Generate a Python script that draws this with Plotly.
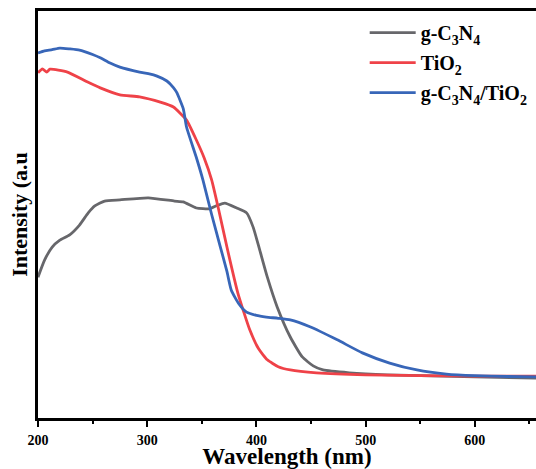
import plotly.graph_objects as go

# g-C3N4
gcn_nm = [200, 206, 213, 220, 229, 238, 246, 252, 261, 275, 301, 325, 333, 345, 357, 364, 371, 382, 391, 397, 403, 410, 419, 431, 442, 452, 461, 485, 520, 600, 656]
gcn_val = [0.346, 0.388, 0.420, 0.437, 0.450, 0.474, 0.504, 0.521, 0.533, 0.536, 0.541, 0.533, 0.531, 0.516, 0.514, 0.522, 0.528, 0.516, 0.504, 0.469, 0.413, 0.346, 0.273, 0.199, 0.150, 0.128, 0.118, 0.111, 0.106, 0.101, 0.098]

# TiO2
tio_nm = [200, 204, 208, 211, 227, 245, 257, 275, 293, 312, 324, 336, 345, 352, 359, 366, 373, 383, 394, 402, 410, 420, 431, 455, 500, 600, 656]
tio_val = [0.848, 0.858, 0.850, 0.857, 0.850, 0.826, 0.811, 0.794, 0.789, 0.776, 0.764, 0.732, 0.683, 0.640, 0.585, 0.505, 0.420, 0.307, 0.216, 0.170, 0.143, 0.126, 0.118, 0.111, 0.106, 0.103, 0.103]

# g-C3N4/TiO2
comp_nm = [200, 206, 213, 220, 229, 238, 250, 257, 266, 275, 293, 301, 309, 318, 324, 327, 333, 336, 345, 351, 359, 367, 373, 377, 384, 391, 400, 409, 420, 431, 449, 474, 497, 522, 547, 574, 600, 630, 656]
comp_val = [0.897, 0.902, 0.905, 0.909, 0.907, 0.904, 0.893, 0.885, 0.872, 0.862, 0.850, 0.846, 0.840, 0.828, 0.812, 0.800, 0.760, 0.715, 0.640, 0.585, 0.500, 0.420, 0.360, 0.314, 0.280, 0.260, 0.252, 0.248, 0.245, 0.241, 0.224, 0.192, 0.160, 0.135, 0.118, 0.108, 0.104, 0.102, 0.101]

x_tickvals = [200, 300, 400, 500, 600]

FONT = "Liberation Serif"

fig = go.Figure()
fig.add_trace(go.Scatter(x=gcn_nm, y=gcn_val, mode="lines", name="g-C<sub>3</sub>N<sub>4</sub>", legendgroup="a",
                         line=dict(color="#67676b", width=2.8, shape="spline", smoothing=0.5)))
fig.add_trace(go.Scatter(x=tio_nm, y=tio_val, mode="lines", name="TiO<sub>2</sub>", legendgroup="b",
                         line=dict(color="#ef4248", width=2.8, shape="spline", smoothing=0.5)))
fig.add_trace(go.Scatter(x=comp_nm, y=comp_val, mode="lines", name="g-C<sub>3</sub>N<sub>4</sub>/TiO<sub>2</sub>", legendgroup="c",
                         line=dict(color="#3866b8", width=2.8, shape="spline", smoothing=0.5)))

fig.update_layout(
    width=536, height=469,
    margin=dict(l=38, r=0, t=11, b=51, autoexpand=False),
    paper_bgcolor="white", plot_bgcolor="white",
    font=dict(family=FONT, color="black", size=14, weight="bold"),
    showlegend=True,
    legend=dict(x=0.656, y=0.995, xanchor="left", yanchor="top", itemwidth=46,
                bgcolor="rgba(0,0,0,0)", font=dict(family=FONT, size=20, weight="bold"),
                tracegroupgap=1),
    xaxis=dict(range=[200, 656], tickvals=x_tickvals, ticks="outside", ticklen=6, tickwidth=2,
               tickcolor="black", showline=True, linecolor="black", linewidth=2.5, mirror=True,
               showgrid=False, zeroline=False, automargin=False, ticklabelstandoff=1,
               tickfont=dict(family=FONT, size=14, weight="bold"),
               minor=dict(dtick=50, tick0=200, ticks="outside", ticklen=3, tickwidth=2, tickcolor="black", showgrid=False),
               title=dict(text="Wavelength (nm)", font=dict(family=FONT, size=23, weight="bold"), standoff=3)),
    yaxis=dict(range=[0, 1], showticklabels=False, ticks="", showline=True, linecolor="black", linewidth=2.5,
               showgrid=False, zeroline=False, automargin=False,
               title=dict(text="Intensity (a.u", font=dict(family=FONT, size=22, weight="bold"), standoff=2)),
)

fig.write_html("out.html", config={"displayModeBar": False},
               post_script="document.body.style.margin='0';document.body.style.overflow='hidden';document.documentElement.style.overflow='hidden';")
